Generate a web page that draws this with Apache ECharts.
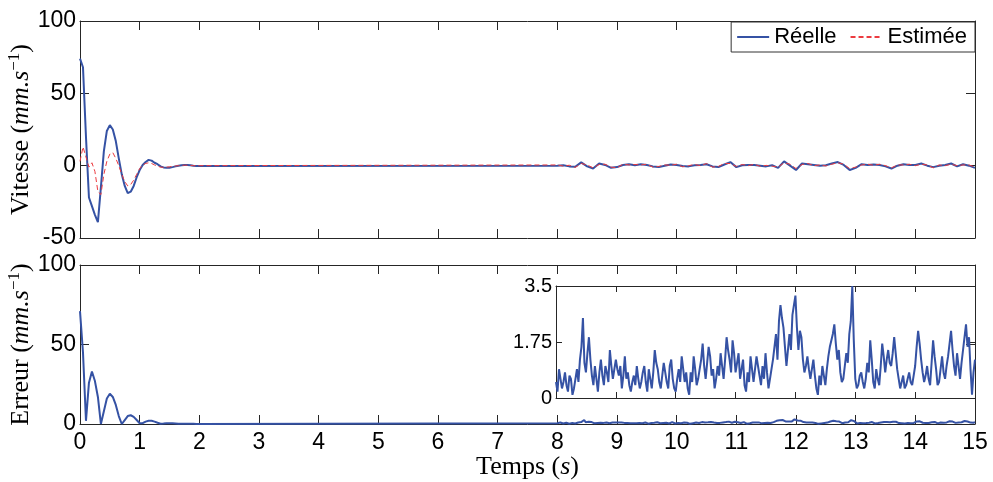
<!DOCTYPE html>
<html>
<head>
<meta charset="utf-8">
<script src="https://cdn.jsdelivr.net/npm/echarts@6/dist/echarts.min.js"></script>
<style>html,body{margin:0;padding:0;background:#fff;}#c{width:993px;height:482px;}</style>
</head>
<body>
<div id="c"></div>
<script>
// ---- data ----
const transStart = 0, transStep = 0.05;   // 0 .. 2 s
const velRealTrans = [74, 68, 20, -22, -28, -34, -39, -15, 10, 24,
  28, 25, 17, 5, -6, -14, -19, -18, -14, -8,
  -3, 0.5, 2.5, 4, 3.5, 2, 1, -0.5, -1.2, -1.5,
  -1.4, -1, -0.5, 0, 0.3, 0.5, 0.5, 0.3, 0, -0.2,
  -0.2];
const velEstTrans = [3, 13, 6, -1, 2, -4, -18, -20, -6, 3,
  8, 9, 5, 0, -6, -11, -14, -13, -10, -6,
  -2, 0.5, 1.5, 2, 1.5, 0.5, -0.3, -1, -1.2, -1,
  -0.8, -0.5, -0.2, 0, 0.2, 0.3, 0.3, 0.2, 0, 0,
  0];
const errTrans = [71, 45, 2, 26, 33, 27, 17, 0, 8, 16,
  19, 17, 12, 5, 0, 2.5, 5, 5.5, 4.5, 2.5,
  0.5, 0.5, 1.5, 2, 2, 1.5, 0.8, 0.2, 0.3, 0.5,
  0.5, 0.4, 0.3, 0.2, 0.1, 0.1, 0.1, 0.1, 0.1, 0,
  0];

const velNoiseStart = 8, velNoiseStep = 0.1;  // 8 .. 15 s
const velRealNoise = [0, 0.3, -0.5, -0.8, 2.3, -0.5, -2, 1.5, 0.5, -1.5,
  -1, 0.5, 1, 0.3, 1, 0.5, -0.5, -1, 0, 0.8,
  0.5, -0.3, -0.5, 0.3, 0.5, 1, -0.5, -1, 0.8, 2.5,
  -1, 0.3, 0.5, 0.5, 0, -0.5, 0.3, -1.5, 3, 0,
  -3, 1.5, 1, 0.5, 0, 0.3, 1.5, 2.5, 0.5, -3,
  -1.5, 1, 0.5, 0.8, 0.5, -0.5, -2, 0, 1, 0.5,
  0.5, 1.5, 0, -1, 0, 0.5, 1.5, -0.5, 1, 0,
  -1.5];
const velEstNoise = [0.5, -0.3, 0.3, -1.2, 1.5, 0.5, -1.5, 0.8, 1, -1,
  -1.5, 1, 0.5, 0.8, 0.5, 1, -1, -0.5, 0.5, 0.3,
  1, -0.8, 0, 0.8, 0, 1.5, -1, -0.5, 1.5, 1.5,
  -0.5, 0.8, 0, 1, -0.5, 0.2, -0.3, -1, 2, 1,
  -2, 0.8, 1.5, 0, 0.5, -0.2, 1, 2, 1, -2,
  -1, 0.5, 1, 0.3, 1, 0, -1.5, 0.5, 0.5, 1,
  0, 1, 0.5, -1.5, 0.5, 0, 1, 0, 0.5, 0.5,
  -1];

const errNoiseStart = 8, errNoiseStep = 0.025;  // 8 .. 15 s, one row per second
const errNoise = [
  0.5,0.2, 0.9,0.6, 0.3,0.5, 0.8,0.4, 0.2,0.7, 0.6,0.1, 0.3,0.6, 0.9,0.5, 1.2,1.6, 2.5,1.1, 0.8,1.4, 1.9,1.2, 0.7,0.4, 1.0,0.6, 0.2,0.8, 1.2,0.7, 0.4,1.0, 0.8,0.5, 1.5,1.0, 0.6,0.9,
  1.2,0.9, 0.7,1.0, 0.3,0.7, 1.3,0.6, 0.8,0.4, 0.2,0.5, 0.7,0.4, 1.0,0.6, 0.3,0.5, 0.8,1.0, 0.5,0.2, 0.9,0.6, 0.3,0.8, 1.5,1.1, 0.9,0.5, 0.3,0.7, 1.1,0.8, 0.5,0.3, 1.0,1.2, 0.6,0.3,
  0.2,0.6, 0.9,0.5, 1.3,0.9, 0.5,0.8, 0.3,0.1, 0.8,0.5, 1.3,0.9, 0.4,0.6, 0.9,1.2, 1.7,1.0, 0.6,1.1, 1.6,1.3, 0.7,0.9, 0.3,0.6, 1.0,0.7, 1.4,1.0, 0.6,1.2, 1.9,1.5, 1.2,0.8, 1.8,1.4,
  0.8,1.1, 1.4,0.6, 0.9,1.2, 0.4,0.2, 0.8,0.5, 1.3,0.9, 0.5,0.9, 1.3,1.0, 0.7,0.4, 1.0,0.6, 1.4,0.8, 0.3,0.6, 0.9,1.2, 1.6,2.0, 1.2,2.4, 2.9,2.5, 2.2,1.6, 1.0,1.5, 2.0,1.5, 2.6,2.9,
  3.2,2.2, 1.5,2.1, 1.9,1.2, 0.8,1.0, 1.3,0.9, 0.6,0.9, 1.2,0.7, 0.3,0.1, 0.7,0.4, 1.0,0.7, 0.4,0.9, 1.3,1.6, 1.8,2.0, 2.3,1.7, 1.2,1.5, 0.8,0.5, 0.6,1.0, 1.4,1.1, 2.0,2.4, 3.5,1.8,
  0.6,0.3, 0.4,0.7, 0.8,0.5, 0.3,0.6, 1.1,0.8, 1.8,1.2, 0.5,0.3, 0.9,0.6, 0.4,1.0, 1.7,1.3, 0.8,1.2, 1.5,1.1, 1.0,1.4, 1.9,1.4, 0.9,0.6, 0.3,0.5, 0.7,0.3, 0.4,0.6, 0.8,0.5, 0.4,0.7,
  1.0,1.6, 2.1,1.7, 1.2,0.8, 0.5,0.7, 1.0,0.6, 0.4,1.1, 1.8,1.3, 0.9,0.4, 0.5,0.9, 1.3,0.8, 0.6,1.0, 1.3,1.7, 2.1,1.5, 1.0,0.7, 1.4,1.0, 0.6,1.1, 1.5,1.9, 2.3,1.6, 1.9,0.9, 0.1,0.8,
  1.2];

const xTicksMain = [0, 15, 1];    // min, max, interval
const yTopRange = [-50, 100, 50];
const yBotRange = [0, 100, 50];
const xInsetRange = [8, 15, 1];
const yInsetRange = [0, 3.5, 1.75];
const legendNames = ['Réelle', 'Estimée'];

// ---- build [t, v] pairs ----
function pairs(start, step, vals) {
  return vals.map((v, i) => [Math.round((start + i * step) * 1000) / 1000, v]);
}
const realData = pairs(transStart, transStep, velRealTrans).concat(pairs(velNoiseStart, velNoiseStep, velRealNoise));
const estData = pairs(transStart, transStep, velEstTrans).concat(pairs(velNoiseStart, velNoiseStep, velEstNoise));
const errData = pairs(transStart, transStep, errTrans).concat(pairs(errNoiseStart, errNoiseStep, errNoise));
const errInset = pairs(errNoiseStart, errNoiseStep, errNoise);

const BLUE = '#3552a4', RED = '#ec3b40', AX = '#262626';
const SANS = 'Liberation Sans', SERIF = 'Liberation Serif';

function xAx(grid, pos, r, labels, tickLen) {
  return {
    type: 'value', gridIndex: grid, position: pos, min: r[0], max: r[1], interval: r[2],
    axisLine: { show: true, onZero: false, lineStyle: { color: AX, width: 1 } },
    axisTick: { show: true, inside: true, length: tickLen, lineStyle: { color: AX } },
    axisLabel: { show: labels, color: '#000', fontFamily: SANS, fontSize: 23, margin: 7 },
    splitLine: { show: false }
  };
}
function yAx(grid, pos, r, labels, tickLen, fs) {
  return {
    type: 'value', gridIndex: grid, position: pos, min: r[0], max: r[1], interval: r[2],
    axisLine: { show: true, onZero: false, lineStyle: { color: AX, width: 1 } },
    axisTick: { show: true, inside: true, length: tickLen, lineStyle: { color: AX } },
    axisLabel: { show: labels, color: '#000', fontFamily: SANS, fontSize: fs || 23, margin: 4,
      formatter: v => String(v) },
    splitLine: { show: false }
  };
}
const richName = {
  r: { fontFamily: SERIF, fontSize: 26, color: '#000', lineHeight: 30, verticalAlign: 'middle' },
  i: { fontFamily: SERIF, fontSize: 26, fontStyle: 'italic', color: '#000', lineHeight: 30, verticalAlign: 'middle' },
  sup: { fontFamily: SERIF, fontSize: 17, color: '#000', lineHeight: 18, verticalAlign: 'top' }
};

const xAxes = [
  xAx(0, 'bottom', xTicksMain, false, 9),
  xAx(0, 'top', xTicksMain, false, 9),
  Object.assign(xAx(1, 'bottom', xTicksMain, true, 9), {
    name: '{r|Temps (}{i|s}{r|)}', nameLocation: 'middle', nameGap: 28, nameMoveOverlap: false,
    nameTextStyle: { rich: richName }
  }),
  xAx(1, 'top', xTicksMain, false, 9),
  xAx(2, 'bottom', xInsetRange, false, 6),
  xAx(2, 'top', xInsetRange, false, 6)
];
const yAxes = [
  Object.assign(yAx(0, 'left', yTopRange, true, 9), {
    name: '{r|Vitesse (}{i|mm.s}{sup|−1}{r|)}', nameLocation: 'middle', nameRotate: 90, nameGap: 44,
    nameMoveOverlap: false, nameTextStyle: { rich: richName }
  }),
  yAx(0, 'right', yTopRange, false, 9),
  Object.assign(yAx(1, 'left', yBotRange, true, 9), {
    name: '{r|Erreur (}{i|mm.s}{sup|−1}{r|)}', nameLocation: 'middle', nameRotate: 90, nameGap: 44,
    nameMoveOverlap: false, nameTextStyle: { rich: richName }
  }),
  yAx(1, 'right', yBotRange, false, 9),
  yAx(2, 'left', yInsetRange, true, 6, 20),
  yAx(2, 'right', yInsetRange, false, 6)
];

const option = {
  animation: false,
  backgroundColor: '#fff',
  grid: [
    { left: 80, right: 18, top: 21, height: 217, outerBoundsMode: 'none', containLabel: false },
    { left: 80, right: 18, top: 265, height: 159, outerBoundsMode: 'none', containLabel: false },
    { left: 556, right: 18, top: 286, height: 112, outerBoundsMode: 'none', containLabel: false,
      show: true, backgroundColor: '#fff', borderWidth: 0 }
  ],
  legend: {
    data: legendNames, right: 18, top: 22, orient: 'horizontal',
    backgroundColor: '#fff', borderColor: '#333', borderWidth: 1,
    padding: [4, 8, 4, 5], itemGap: 13, itemWidth: 32, itemHeight: 14,
    itemStyle: { opacity: 0, color: 'transparent', borderWidth: 0 },
    textStyle: { fontFamily: SANS, fontSize: 22, color: '#000' }
  },
  xAxis: xAxes,
  yAxis: yAxes,
  series: [
    { name: legendNames[0], type: 'line', xAxisIndex: 0, yAxisIndex: 0, data: realData,
      symbol: 'none', lineStyle: { color: BLUE, width: 2 }, itemStyle: { color: BLUE } },
    { name: legendNames[1], type: 'line', xAxisIndex: 0, yAxisIndex: 0, data: estData,
      symbol: 'none', lineStyle: { color: RED, width: 1, type: [5, 3] }, itemStyle: { color: RED } },
    { name: 'Erreur', type: 'line', xAxisIndex: 2, yAxisIndex: 2, data: errData,
      symbol: 'none', lineStyle: { color: BLUE, width: 2 }, itemStyle: { color: BLUE } },
    { name: 'ErreurZoom', type: 'line', xAxisIndex: 4, yAxisIndex: 4, data: errInset,
      symbol: 'none', lineStyle: { color: BLUE, width: 2 }, itemStyle: { color: BLUE } }
  ]
};
const chart = echarts.init(document.getElementById('c'), null, { renderer: 'canvas' });
chart.setOption(option);
</script>
</body>
</html>
